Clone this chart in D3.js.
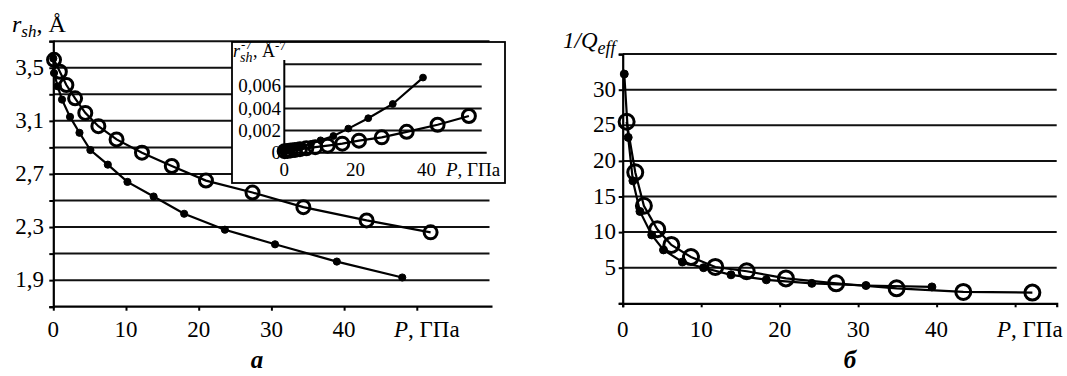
<!DOCTYPE html>
<html>
<head>
<meta charset="utf-8">
<script src="https://cdn.jsdelivr.net/npm/d3@7/dist/d3.min.js"></script>
<style>
  body { margin: 0; background: #fff; }
</style>
</head>
<body>
<svg id="chart" width="1067" height="376"></svg>
<script>
// ---- panel а: r_sh vs P ----
const pFilledA = [0, 0.1, 0.6, 1.2, 2.3, 3.6, 5.1, 7.5, 10.2, 13.8, 18.0, 23.6, 30.5, 39.0, 48.0];
const rFilledA = [3.57, 3.46, 3.36, 3.26, 3.13, 3.01, 2.88, 2.77, 2.64, 2.53, 2.40, 2.28, 2.17, 2.04, 1.92];
const pOpenA = [0.1, 0.9, 1.8, 3.0, 4.4, 6.2, 8.7, 12.2, 16.3, 21.0, 27.4, 34.4, 43.1, 51.9];
const rOpenA = [3.56, 3.47, 3.37, 3.27, 3.16, 3.06, 2.96, 2.86, 2.76, 2.65, 2.56, 2.45, 2.35, 2.26];
const yGridA = [3.7, 3.5, 3.3, 3.1, 2.9, 2.7, 2.5, 2.3, 2.1, 1.9];
const yLabelsA = [3.5, 3.1, 2.7, 2.3, 1.9];
const xLabelsA = [0, 10, 20, 30, 40];

// ---- inset: r_sh^-7 vs P ----
const pFilledIn = [0, 0.1, 0.6, 1.2, 2.3, 3.6, 5.1, 7.5, 10.2, 13.8, 18.0, 23.6, 30.5, 39.0];
const vFilledIn = [0.000135, 0.000168, 0.000207, 0.000256, 0.00034, 0.000447, 0.000609, 0.0008, 0.00112, 0.00151, 0.00218, 0.00312, 0.00441, 0.0068];
const pOpenIn = [0.1, 0.9, 1.8, 3.0, 4.4, 6.2, 8.7, 12.2, 16.3, 21.0, 27.4, 34.4, 43.1, 51.9];
const vOpenIn = [0.000138, 0.000165, 0.000202, 0.00025, 0.000318, 0.000398, 0.000502, 0.000639, 0.00082, 0.00109, 0.00139, 0.00189, 0.00253, 0.00332];
const yGridIn = [0.008, 0.006, 0.004, 0.002];
const yLabelsIn = [0.006, 0.004, 0.002, 0];
const xLabelsIn = [0, 20, 40];

// ---- panel б: 1/Q_eff vs P ----
const pFilledB = [0.2, 0.7, 1.3, 2.2, 3.7, 5.2, 7.6, 10.3, 13.8, 18.3, 24.1, 31.0, 39.4];
const qFilledB = [32.2, 23.3, 17.2, 12.9, 9.6, 7.5, 5.8, 5.0, 4.0, 3.3, 2.8, 2.5, 2.3];
const pOpenB = [0.5, 1.6, 2.7, 4.4, 6.2, 8.7, 11.8, 15.8, 20.8, 27.2, 34.9, 43.4, 52.2];
const qOpenB = [25.5, 18.4, 13.7, 10.4, 8.2, 6.5, 5.1, 4.5, 3.5, 2.8, 2.1, 1.6, 1.5];
const yGridB = [35, 30, 25, 20, 15, 10, 5];
const yLabelsB = [30, 25, 20, 15, 10, 5];
const xLabelsB = [0, 10, 20, 30, 40];

const FONT = "'Liberation Serif'";
const svg = d3.select('#chart');
const comma = (d) => String(d).replace('.', ',');

function zip(xs, ys) { return xs.map((x, i) => ({x: x, y: ys[i]})); }

function txt(g, x, y, size) {
  return g.append('text').attr('x', x).attr('y', y)
    .style('font-family', FONT).style('font-size', size + 'px').style('fill', '#000');
}

// draws a data series: line + markers
function drawSeries(g, x, y, data, open, rOpen, rDot) {
  const line = d3.line().x((d) => x(d.x)).y((d) => y(d.y));
  g.append('path')
    .datum(data)
    .attr('d', line)
    .attr('fill', 'none')
    .attr('stroke', '#000')
    .attr('stroke-width', 2.2);
  g.selectAll(null)
    .data(data)
    .enter()
    .append('circle')
    .attr('cx', (d) => x(d.x))
    .attr('cy', (d) => y(d.y))
    .attr('r', open ? rOpen : rDot)
    .attr('fill', open ? 'none' : '#000')
    .attr('stroke', '#000')
    .attr('stroke-width', open ? 3 : 1);
}

function gridLines(g, x, y, vals, x0, x1, w) {
  g.selectAll(null)
    .data(vals)
    .enter()
    .append('line')
    .attr('x1', x(x0)).attr('x2', x(x1))
    .attr('y1', (d) => y(d)).attr('y2', (d) => y(d))
    .attr('stroke', '#111')
    .attr('stroke-width', w);
}

function tickLabels(g, vals, fx, fy, size, anchor, fmt) {
  g.selectAll(null).data(vals).enter().append('text')
    .attr('x', fx).attr('y', fy)
    .attr('text-anchor', anchor)
    .style('font-family', FONT).style('font-size', size + 'px').style('fill', '#000')
    .text(fmt);
}

function styleAxes(axes) {
  axes.forEach((a) => {
    a.select('.domain').attr('stroke-width', 2.2).attr('stroke', '#000');
    a.selectAll('.tick line').attr('stroke-width', 2);
  });
}

/*******************************************************************
 * Panel а
 *******************************************************************/
(function panelA() {
  const x = d3.scaleLinear().domain([0, 60]).range([53.3, 489.5]);
  const y = d3.scaleLinear().domain([1.7, 3.7]).range([306.7, 41.2]);
  const g = svg.append('g');

  gridLines(g, x, y, yGridA, 0, 60, 2);

  const yAxis = g.append('g')
    .attr('transform', 'translate(' + x(0) + ',0)')
    .call(d3.axisLeft(y).tickValues(d3.range(1.7, 3.71, 0.2)).tickSize(4).tickFormat(''));
  const xAxis = g.append('g')
    .attr('transform', 'translate(0,' + y(1.7) + ')')
    .call(d3.axisBottom(x).tickValues([0, 10, 20, 30, 40, 50]).tickSize(4).tickFormat(''));
  styleAxes([yAxis, xAxis]);
  xAxis.select('.domain').attr('d', 'M' + x(0) + ',0H' + (x(60) + 3));

  tickLabels(g, yLabelsA, 44, (d) => y(d) + 7, 23, 'end', comma);
  tickLabels(g, xLabelsA, (d) => x(d), 337, 23, 'middle', (d) => d);
  const px = txt(g, 394, 337, 23);
  px.append('tspan').style('font-style', 'italic').text('P');
  px.append('tspan').text(', ГПа');

  const t = txt(g, 12, 32, 24);
  t.append('tspan').style('font-style', 'italic').text('r');
  t.append('tspan').style('font-style', 'italic').style('font-size', '17px').attr('dy', 5).text('sh');
  t.append('tspan').attr('dy', -5).text(', Å');

  drawSeries(g, x, y, zip(pFilledA, rFilledA), false, 6, 3.6);
  drawSeries(g, x, y, zip(pOpenA, rOpenA), true, 6.5, 3.6);

  txt(g, 257, 368, 25).attr('text-anchor', 'middle')
    .style('font-weight', 'bold').style('font-style', 'italic').text('а');
})();

/*******************************************************************
 * Inset
 *******************************************************************/
(function inset() {
  const g = svg.append('g');
  g.append('rect').attr('x', 232).attr('y', 42).attr('width', 273).attr('height', 141)
    .attr('fill', '#fff').attr('stroke', '#000').attr('stroke-width', 1.8);
  const x = d3.scaleLinear().domain([0, 55.5]).range([284.3, 481.7]);
  const y = d3.scaleLinear().domain([0, 0.008]).range([152.7, 64.3]);

  gridLines(g, x, y, yGridIn, 0, 55.5, 2);
  g.append('line').attr('x1', x(0)).attr('x2', 486.7).attr('y1', y(0)).attr('y2', y(0))
    .attr('stroke', '#000').attr('stroke-width', 2);
  g.append('line').attr('x1', x(0)).attr('x2', x(0)).attr('y1', 60).attr('y2', y(0))
    .attr('stroke', '#000').attr('stroke-width', 2);

  tickLabels(g, yLabelsIn, 281, (d) => y(d) + 6, 19, 'end', comma);
  tickLabels(g, xLabelsIn, (d) => x(d), 176, 19, 'middle', (d) => d);
  const px = txt(g, 446, 176, 19);
  px.append('tspan').style('font-style', 'italic').text('P');
  px.append('tspan').text(', ГПа');

  const t = txt(g, 233, 57, 18);
  t.append('tspan').style('font-style', 'italic').text('r');
  t.append('tspan').attr('x', 241).attr('y', 49).style('font-size', '13px').text('-7');
  t.append('tspan').attr('x', 240).attr('y', 62).style('font-size', '14px').style('font-style', 'italic').text('sh');
  t.append('tspan').attr('x', 253).attr('y', 57).text(', Å');
  t.append('tspan').attr('y', 50).style('font-size', '13px').text('-7');

  drawSeries(g, x, y, zip(pFilledIn, vFilledIn), false, 6, 3.4);
  drawSeries(g, x, y, zip(pOpenIn, vOpenIn), true, 6.5, 3.4);
})();

/*******************************************************************
 * Panel б
 *******************************************************************/
(function panelB() {
  const x = d3.scaleLinear().domain([0, 55.3]).range([622.7, 1056.7]);
  const y = d3.scaleLinear().domain([0, 35]).range([303.3, 54.1]);
  const g = svg.append('g');

  gridLines(g, x, y, yGridB, 0, 55.3, 2);

  const yAxis = g.append('g')
    .attr('transform', 'translate(' + x(0) + ',0)')
    .call(d3.axisLeft(y).tickValues(d3.range(0, 36, 5)).tickSize(4).tickFormat(''));
  const xAxis = g.append('g')
    .attr('transform', 'translate(0,' + y(0) + ')')
    .call(d3.axisBottom(x).tickValues([0, 10, 20, 30, 40, 50]).tickSize(4).tickFormat(''));
  styleAxes([yAxis, xAxis]);

  tickLabels(g, yLabelsB, 616, (d) => y(d) + 7, 23, 'end', (d) => d);
  tickLabels(g, xLabelsB, (d) => x(d), 337, 23, 'middle', (d) => d);
  const px = txt(g, 997, 337, 23);
  px.append('tspan').style('font-style', 'italic').text('P');
  px.append('tspan').text(', ГПа');

  const t = txt(g, 563, 48, 23).style('font-style', 'italic');
  t.append('tspan').text('1/Q');
  t.append('tspan').style('font-size', '18px').attr('dy', 6).text('eff');

  drawSeries(g, x, y, zip(pFilledB, qFilledB), false, 7, 4);
  drawSeries(g, x, y, zip(pOpenB, qOpenB), true, 7.5, 4);

  txt(g, 850, 368, 25).attr('text-anchor', 'middle')
    .style('font-weight', 'bold').style('font-style', 'italic').text('б');
})();
</script>
</body>
</html>
